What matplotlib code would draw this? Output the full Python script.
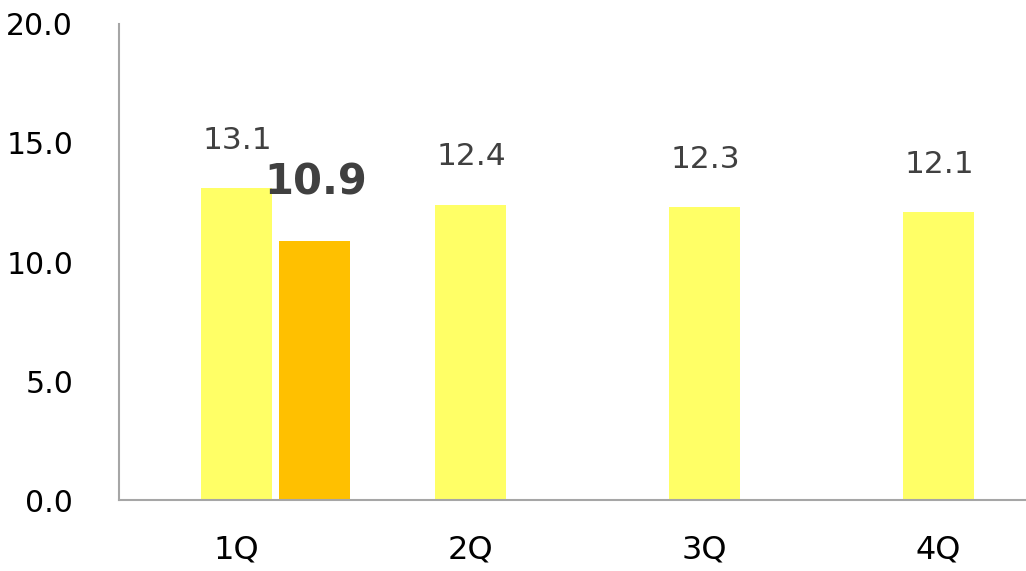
import numpy as np
import matplotlib
matplotlib.use('Agg')
import matplotlib.pyplot as plt

# data
quarters = ['1Q', '2Q', '3Q', '4Q']
plan_vals = [13.1, 12.4, 12.3, 12.1]
actual_vals = [10.9]   # only 1Q has an actual value

yellow = '#FFFF66'
orange = '#FFC000'
spine_col = '#A6A6A6'
label_col = '#404040'

fig = plt.figure(figsize=(10.26, 5.71), dpi=100)
ax = fig.add_axes([0.116, 0.1243, 0.884, 0.8337])

x = np.arange(len(quarters))
w = 0.303
ax.bar(x, plan_vals, width=w, color=yellow, zorder=2)
xa = x[:len(actual_vals)] + 0.333
ax.bar(xa, actual_vals, width=w, color=orange, zorder=2)

for xi, v in zip(x, plan_vals):
    ax.annotate(f'{v:.1f}', (xi, v), xytext=(1, 34.5), textcoords='offset points',
                ha='center', va='center', fontsize=22.5, color=label_col)
for xi, v in zip(xa, actual_vals):
    ax.annotate(f'{v:.1f}', (xi, v), xytext=(1, 42), textcoords='offset points',
                ha='center', va='center', fontsize=30, fontweight='bold', color=label_col)

ax.set_xlim(-0.5, 3.374)
ax.set_ylim(0, 20)
ax.set_yticks([0, 5, 10, 15, 20])
ax.set_yticklabels([f'{t:.1f}' for t in [0, 5, 10, 15, 20]])
ax.set_xticks(x)
ax.set_xticklabels(quarters)
ax.tick_params(axis='y', length=0, pad=33, labelsize=21.5, labelcolor='black')
ax.tick_params(axis='x', length=0, pad=25, labelsize=23, labelcolor='black')

for s in ['top', 'right']:
    ax.spines[s].set_visible(False)
for s in ['left', 'bottom']:
    ax.spines[s].set_color(spine_col)
    ax.spines[s].set_linewidth(1.5)

fig.savefig('out.png', dpi=100)
